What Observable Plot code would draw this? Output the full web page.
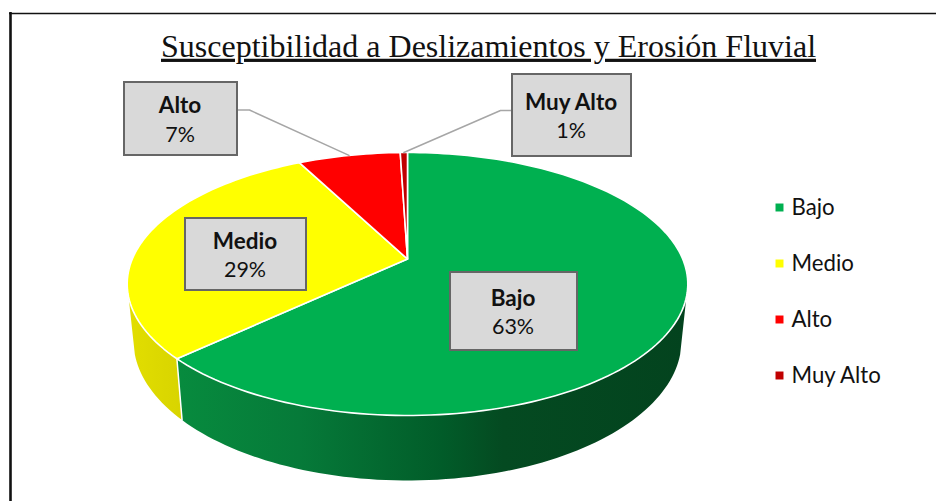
<!DOCTYPE html>
<html lang="es">
<head>
<meta charset="utf-8">
<script src="https://cdn.jsdelivr.net/npm/d3@7"></script>
<script src="https://cdn.jsdelivr.net/npm/@observablehq/plot@0.6"></script>
<style>
  html, body { margin: 0; padding: 0; background: #fff; }
  svg { display: block; }
</style>
</head>
<body>
<div id="chart"></div>
<script>
// ---- data ----
const titleText = "Susceptibilidad a Deslizamientos y Erosión Fluvial";
const categories = ["Bajo", "Medio", "Alto", "Muy Alto"];
const shares = [63, 29.4, 7.1, 0.5];
const colors = ["#00B050", "#FFFF00", "#FF0000", "#C00000"];

// ---- layout ----
const W = 936, H = 501;
const topEllipse = {cx: 407, cy: 283.5, rx: 280.3, ry: 131.5};
const baseEllipse = {cx: 407, cy: 340, rx: 274, ry: 140};
const tilt = 0.19;                // perspective shift of the pie apex
const silhouette = 106.5;         // angle at which the side wall meets the outline
const labelBoxes = {
  "Bajo":     {x1: 450, x2: 577, y1: 272, y2: 350, cy: 312.5},
  "Medio":    {x1: 185, x2: 306, y1: 218, y2: 290, cy: 255.5},
  "Alto":     {x1: 124, x2: 237, y1: 82,  y2: 155, cy: 120},
  "Muy Alto": {x1: 512, x2: 631, y1: 74,  y2: 156, cy: 116.5}
};
const leaderElbows = {"Alto": [249, 109.5], "Muy Alto": [500, 110]};

// Perspective projection of a pie angle (degrees clockwise from the top) onto an ellipse
function project(deg, e) {
  const t = deg * Math.PI / 180, u = Math.sin(t), w = Math.cos(t);
  const d = 1 + tilt * w;
  return [e.cx + e.rx * u * Math.sqrt(1 - tilt * tilt) / d,
          e.cy - e.ry * (w + tilt) / d];
}
function arcAngles(a0, a1) {
  const n = Math.max(2, Math.ceil(Math.abs(a1 - a0) / 1.5));
  return d3.range(n + 1).map(i => a0 + (a1 - a0) * i / n);
}

// Angles of each slice, accumulated from the shares
const total = d3.sum(shares);
let acc = 0;
const slices = categories.map((name, i) => {
  const a0 = acc / total * 360;
  acc += shares[i];
  return {name, share: shares[i], color: colors[i], a0, a1: acc / total * 360};
});

const apex = [topEllipse.cx, topEllipse.cy - tilt * topEllipse.ry];

const topPolys = slices.flatMap(s => {
  const pts = [apex, ...arcAngles(s.a0, s.a1).map(a => project(a, topEllipse))];
  return pts.map(([x, y]) => ({name: s.name, x, y}));
});

function wallPoly(a0, a1) {
  const as = arcAngles(a0, a1);
  return [...as.map(a => project(a, topEllipse)),
          ...as.slice().reverse().map(a => project(a, baseEllipse))]
         .map(([x, y]) => ({x, y}));
}
const bajo = slices[0], medio = slices[1];
const bajoWall = wallPoly(silhouette, bajo.a1);
const medioWall = wallPoly(medio.a0, 360 - silhouette);

// Leader lines from label box to the middle of the slice rim
const leaders = Object.keys(leaderElbows).flatMap(name => {
  const s = slices.find(d => d.name === name), b = labelBoxes[name];
  const e = leaderElbows[name];
  const edge = e[0] > b.x2 ? b.x2 : b.x1;
  const rim = project((s.a0 + s.a1) / 2, topEllipse);
  return [[edge, e[1]], e, rim].map(([x, y]) => ({name, x, y}));
});

const labels = slices.map(s => ({...labelBoxes[s.name], name: s.name,
  pct: Math.round(s.share) + "%"}));

// Legend rows placed by a point scale over the categories
const legendY = d3.scalePoint().domain(categories).range([207, 375]);
const legendRows = slices.map(s => ({name: s.name, color: s.color, y: legendY(s.name)}));

const defs = () => {
  const svg = d3.create("svg:g");
  const d = svg.append("defs");
  const g = d.append("linearGradient").attr("id", "wallBajo");
  [[0, "#078b3e"], [0.24, "#067a39"], [0.52, "#015c29"], [0.64, "#044a21"], [1, "#03431e"]]
    .forEach(([o, c]) => g.append("stop").attr("offset", o).attr("stop-color", c));
  const y = d.append("linearGradient").attr("id", "wallMedio");
  [[0, "#e2de00"], [1, "#d8d400"]]
    .forEach(([o, c]) => y.append("stop").attr("offset", o).attr("stop-color", c));
  return svg.node();
};

const underline = (index, scales, values, dims, context, next) => {
  const g = next(index, scales, values, dims, context);
  d3.select(g).selectAll("text").style("text-decoration", "underline");
  return g;
};

const uiFont = "Lato";
const chart = Plot.plot({
  width: W, height: H,
  margin: 0,
  x: {type: "identity", axis: null},
  y: {type: "identity", axis: null},
  color: {domain: categories, range: colors},
  style: {background: "#fff", color: "#000"},
  marks: [
    defs,
    // chart frame
    Plot.ruleX([10], {y1: 12, y2: H, stroke: "#111", strokeWidth: 2.6}),
    Plot.ruleY([13], {x1: 9, x2: W, stroke: "#111", strokeWidth: 1.5}),
    // title
    Plot.text([titleText], {x: 488, y: 46, text: d => d, fontFamily: "Liberation Serif",
      fontSize: 32, fill: "#111", render: underline}),
    // side walls
    Plot.line(bajoWall, {x: "x", y: "y", curve: "linear-closed", fill: "url(#wallBajo)", stroke: "none"}),
    Plot.line(medioWall, {x: "x", y: "y", curve: "linear-closed", fill: "url(#wallMedio)", stroke: "none"}),
    // wall divider
    Plot.line([project(bajo.a1, topEllipse), project(bajo.a1, baseEllipse)], {
      x: d => d[0], y: d => d[1], stroke: "#fff", strokeWidth: 1.5}),
    // top surface
    Plot.line(topPolys, {x: "x", y: "y", z: "name", fill: "name", stroke: "#fff",
      strokeWidth: 1.6, curve: "linear-closed", strokeLinejoin: "round"}),
    // leaders
    Plot.line(leaders, {x: "x", y: "y", z: "name", stroke: "#a6a6a6", strokeWidth: 1.5}),
    // data label boxes
    Plot.rect(labels, {x1: "x1", x2: "x2", y1: "y1", y2: "y2", fill: "#d9d9d9",
      stroke: "#666", strokeWidth: 2}),
    Plot.text(labels, {x: d => (d.x1 + d.x2) / 2 - 1, y: d => d.cy - 14.5, text: "name",
      fontFamily: uiFont, fontWeight: 700, fontSize: 22.5, fill: "#111"}),
    Plot.text(labels, {x: d => (d.x1 + d.x2) / 2 - 1, y: d => d.cy + 14.5, text: "pct",
      fontFamily: uiFont, fontSize: 21.5, fill: "#111"}),
    // legend
    Plot.dot(legendRows, {x: 779, y: "y", symbol: "square", r: 4.5, fill: "name"}),
    Plot.text(legendRows, {x: 791, y: "y", text: "name", textAnchor: "start",
      fontFamily: uiFont, fontSize: 22.2, fill: "#111"})
  ]
});
document.getElementById("chart").append(chart);
</script>
</body>
</html>
